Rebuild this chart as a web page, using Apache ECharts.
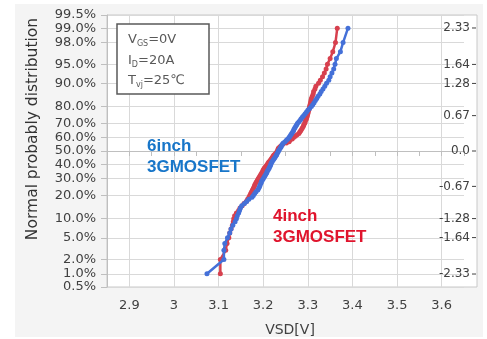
<!DOCTYPE html>
<html>
<head>
<meta charset="utf-8">
<script src="https://cdn.jsdelivr.net/npm/echarts@6/dist/echarts.min.js"></script>
<style>
  html, body { margin: 0; padding: 0; background: #fff; }
  #bg { position: absolute; left: 15px; top: 4px; width: 468px; height: 333px; background: #f4f4f4; }
  #chart { position: absolute; left: 0; top: 0; width: 487px; height: 339px; }
</style>
</head>
<body>
<div id="bg"></div>
<div id="chart"></div>
<script>
// cumulative probability (%) of each ranked sample
const cumPct = [
  1, 2, 3, 4, 5, 6, 7, 8, 9, 10, 11, 12, 13, 14, 15, 16, 17, 18, 19, 20,
  21, 22, 23, 24, 25, 26, 27, 28, 29, 30, 31, 32, 33, 34, 35, 36, 37, 38, 39, 40,
  41, 42, 43, 44, 45, 46, 47, 48, 49, 50, 51, 52, 53, 54, 55, 56, 57, 58, 59, 60,
  61, 62, 63, 64, 65, 66, 67, 68, 69, 70, 71, 72, 73, 74, 75, 76, 77, 78, 79, 80,
  81, 82, 83, 84, 85, 86, 87, 88, 89, 90, 91, 92, 93, 94, 95, 96, 97, 98, 99
]

// VSD[V] - 6inch 3GMOSFET (blue)
const vsd6inch = [
  3.074, 3.112, 3.112, 3.114, 3.120, 3.125, 3.128, 3.132, 3.137, 3.140,
  3.142, 3.145, 3.147, 3.149, 3.152, 3.158, 3.163, 3.168, 3.175, 3.178,
  3.181, 3.184, 3.188, 3.190, 3.192, 3.193, 3.195, 3.196, 3.198, 3.200,
  3.202, 3.204, 3.206, 3.208, 3.209, 3.211, 3.213, 3.214, 3.216, 3.217,
  3.218, 3.220, 3.222, 3.224, 3.226, 3.228, 3.230, 3.231, 3.233, 3.234,
  3.236, 3.238, 3.240, 3.241, 3.243, 3.245, 3.249, 3.252, 3.255, 3.258,
  3.260, 3.262, 3.264, 3.266, 3.268, 3.269, 3.271, 3.273, 3.275, 3.277,
  3.280, 3.283, 3.285, 3.288, 3.291, 3.294, 3.297, 3.300, 3.304, 3.308,
  3.311, 3.314, 3.317, 3.320, 3.323, 3.327, 3.330, 3.334, 3.338, 3.342,
  3.347, 3.350, 3.354, 3.358, 3.361, 3.364, 3.373, 3.379, 3.390
]

// VSD[V] - 4inch 3GMOSFET (red)
const vsd4inch = [
  3.104, 3.104, 3.116, 3.119, 3.123, 3.125, 3.128, 3.131, 3.133, 3.134,
  3.136, 3.140, 3.145, 3.148, 3.153, 3.157, 3.162, 3.165, 3.168, 3.170,
  3.172, 3.174, 3.176, 3.178, 3.180, 3.181, 3.183, 3.185, 3.187, 3.189,
  3.191, 3.193, 3.195, 3.197, 3.199, 3.200, 3.202, 3.204, 3.207, 3.209,
  3.211, 3.213, 3.216, 3.218, 3.220, 3.222, 3.224, 3.227, 3.230, 3.232,
  3.233, 3.234, 3.237, 3.240, 3.244, 3.252, 3.258, 3.260, 3.265, 3.268,
  3.272, 3.276, 3.280, 3.282, 3.284, 3.286, 3.288, 3.290, 3.291, 3.293,
  3.294, 3.295, 3.297, 3.298, 3.299, 3.300, 3.301, 3.302, 3.303, 3.304,
  3.305, 3.306, 3.307, 3.308, 3.310, 3.312, 3.313, 3.316, 3.318, 3.324,
  3.328, 3.333, 3.337, 3.341, 3.344, 3.350, 3.356, 3.362, 3.366
]

// axis ticks (left axis labels split into two alternating sets)
const pctTicks = [0.5, 1, 2, 5, 10, 20, 30, 40, 50, 60, 70, 80, 90, 95, 98, 99, 99.5]
const pctTicksA = [0.5, 2, 10, 30, 50, 70, 90, 98, 99.5]
const pctTicksB = [1, 5, 20, 40, 60, 80, 95, 99]
const zTicks = [-2.33, -1.64, -1.28, -0.67, 0, 0.67, 1.28, 1.64, 2.33]
const xLabelVals = [2.9, 3.0, 3.1, 3.2, 3.3, 3.4, 3.5, 3.6]
const xTickVals = [2.85, 2.9, 2.95, 3.0, 3.05, 3.1, 3.15, 3.2, 3.25, 3.3, 3.35, 3.4, 3.45, 3.5, 3.55, 3.6, 3.65]

// inverse standard normal CDF (Acklam)
function probit(p) {
  const a = [-39.69683028665376, 220.9460984245205, -275.9285104469687, 138.357751867269, -30.66479806614716, 2.506628277459239]
  const b = [-54.47609879822406, 161.5858368580409, -155.6989798598866, 66.80131188771972, -13.28068155288572]
  const c = [-0.007784894002430293, -0.3223964580411365, -2.400758277161838, -2.549732539343734, 4.374664141464968, 2.938163982698783]
  const d = [0.007784695709041462, 0.3224671290700398, 2.445134137142996, 3.754408661907416]
  const pl = 0.02425
  let q, r
  if (p < pl) {
    q = Math.sqrt(-2 * Math.log(p))
    return (((((c[0] * q + c[1]) * q + c[2]) * q + c[3]) * q + c[4]) * q + c[5]) / ((((d[0] * q + d[1]) * q + d[2]) * q + d[3]) * q + 1)
  }
  if (p > 1 - pl) {
    q = Math.sqrt(-2 * Math.log(1 - p))
    return -(((((c[0] * q + c[1]) * q + c[2]) * q + c[3]) * q + c[4]) * q + c[5]) / ((((d[0] * q + d[1]) * q + d[2]) * q + d[3]) * q + 1)
  }
  q = p - 0.5
  r = q * q
  return (((((a[0] * r + a[1]) * r + a[2]) * r + a[3]) * r + a[4]) * r + a[5]) * q / (((((b[0] * r + b[1]) * r + b[2]) * r + b[3]) * r + b[4]) * r + 1)
}

const toZ = list => list.map(p => probit(p / 100))
const pctZ = toZ(pctTicks)
const zMin = pctZ[0]
const zMax = pctZ[pctZ.length - 1]

const pctLabel = v => {
  let best = 0
  pctZ.forEach((z, i) => { if (Math.abs(z - v) < Math.abs(pctZ[best] - v)) best = i })
  return pctTicks[best].toFixed(1) + '%'
}

const toPoints = vals => vals.map((v, i) => [v, probit(cumPct[i] / 100)])

const font = 'DejaVu Sans, Verdana, sans-serif'
const axisGray = '#bfbfbf'
const gridGray = '#d9d9d9'
const labelColor = '#404040'

const leftLabelAxis = (ticks, main) => ({
  gridIndex: 0, type: 'value', min: zMin, max: zMax, position: 'left', offset: 0,
  axisLine: { show: main, lineStyle: { color: axisGray } },
  axisTick: { show: true, customValues: toZ(ticks), length: 6, lineStyle: { color: axisGray } },
  axisLabel: {
    customValues: toZ(ticks), margin: 11, fontSize: 13, color: labelColor, fontFamily: font,
    hideOverlap: false, formatter: pctLabel
  },
  splitLine: { show: true, lineStyle: { color: gridGray } }
})

const chart = echarts.init(document.getElementById('chart'))

chart.setOption({
  animation: false,
  backgroundColor: 'transparent',
  grid: [
    // plot
    { left: 107, top: 15, width: 357, height: 272, show: false },
    // frame
    { left: 107, top: 15, width: 370, height: 272, show: true, backgroundColor: '#fff', borderColor: '#c8c8c8', borderWidth: 1 },
    // right z-axis
    { left: 107, top: 15, width: 370, height: 272, show: false }
  ],
  xAxis: [
    {
      gridIndex: 0, type: 'value', min: 2.85, max: 3.65, position: 'bottom',
      axisLine: { show: true, lineStyle: { color: axisGray } },
      axisTick: { show: true, customValues: xTickVals, length: 5, lineStyle: { color: axisGray } },
      axisLabel: {
        customValues: xLabelVals, margin: 12, fontSize: 13, color: labelColor, fontFamily: font,
        hideOverlap: false,
        formatter: v => String(+v.toFixed(1))
      },
      splitLine: { show: false }
    },
    {
      gridIndex: 0, type: 'value', min: 2.85, max: 3.65, position: 'bottom',
      axisLine: { show: false },
      axisTick: { show: false, customValues: xLabelVals },
      axisLabel: { show: false, customValues: xLabelVals },
      splitLine: { show: true, lineStyle: { color: gridGray } }
    },
    { gridIndex: 1, type: 'value', min: 0, max: 1, show: false },
    { gridIndex: 2, type: 'value', min: 0, max: 1, show: false }
  ],
  yAxis: [
    leftLabelAxis(pctTicksA, true),
    leftLabelAxis(pctTicksB, false),
    { gridIndex: 1, type: 'value', min: 0, max: 1, show: false },
    {
      gridIndex: 2, type: 'value', min: zMin, max: zMax, position: 'right',
      axisLine: { show: false },
      axisTick: { show: false, customValues: zTicks },
      axisLabel: {
        inside: true, customValues: zTicks, margin: 1, fontSize: 12, color: labelColor, fontFamily: font,
        hideOverlap: false,
        // tick drawn as part of the label
        formatter: v => (Math.abs(v) < 1e-9 ? '0.0' : v.toFixed(2)) + '{g| }{t| }',
        rich: {
          g: { width: 2, fontSize: 4 },
          t: { width: 4, height: 1, fontSize: 1, backgroundColor: labelColor }
        }
      },
      splitLine: { show: false }
    }
  ],
  series: [
    {
      name: '4inch 3GMOSFET', type: 'line', xAxisIndex: 0, yAxisIndex: 0,
      data: toPoints(vsd4inch),
      symbol: 'circle', symbolSize: 5, showSymbol: true,
      itemStyle: { color: '#d7404e' },
      lineStyle: { color: '#d7404e', width: 2.5 },
      z: 3
    },
    {
      name: '6inch 3GMOSFET', type: 'line', xAxisIndex: 0, yAxisIndex: 0,
      data: toPoints(vsd6inch),
      symbol: 'circle', symbolSize: 5, showSymbol: true,
      itemStyle: { color: '#4470d8' },
      lineStyle: { color: '#4470d8', width: 2.5 },
      z: 4
    }
  ],
  graphic: [
    // 条件ボックス
    {
      type: 'rect', z: 50,
      shape: { x: 117, y: 24, width: 92, height: 70 },
      style: { fill: '#fff', stroke: '#595959', lineWidth: 1.5 }
    },
    {
      type: 'text', z: 51, x: 128, y: 40,
      style: {
        text: '{n|V}{s|GS}{n|=0V}', verticalAlign: 'middle',
        rich: {
          n: { fontSize: 13, fontFamily: font, fill: '#595959' },
          s: { fontSize: 8, fontFamily: font, fill: '#595959', padding: [7, 0, 0, 0] }
        }
      }
    },
    {
      type: 'text', z: 51, x: 128, y: 61,
      style: {
        text: '{n|I}{s|D}{n|=20A}', verticalAlign: 'middle',
        rich: {
          n: { fontSize: 13, fontFamily: font, fill: '#595959' },
          s: { fontSize: 8, fontFamily: font, fill: '#595959', padding: [7, 0, 0, 0] }
        }
      }
    },
    {
      type: 'text', z: 51, x: 128, y: 81,
      style: {
        text: '{n|T}{s|vj}{n|=25℃}', verticalAlign: 'middle',
        rich: {
          n: { fontSize: 13, fontFamily: font, fill: '#595959' },
          s: { fontSize: 8, fontFamily: font, fill: '#595959', padding: [7, 0, 0, 0] }
        }
      }
    },
    // 系列ラベル
    {
      type: 'text', z: 40, x: 147, y: 136,
      style: {
        text: '6inch\n3GMOSFET', fontSize: 17, fontWeight: 'bold', lineHeight: 21,
        fontFamily: 'Liberation Sans, Arial, sans-serif', fill: '#1876c9'
      }
    },
    {
      type: 'text', z: 40, x: 273, y: 206,
      style: {
        text: '4inch\n3GMOSFET', fontSize: 17, fontWeight: 'bold', lineHeight: 21,
        fontFamily: 'Liberation Sans, Arial, sans-serif', fill: '#e0142d'
      }
    },
    // 軸タイトル
    {
      type: 'text', z: 40, x: 33, y: 129, rotation: Math.PI / 2,
      style: {
        text: 'Normal probably distribution', fontSize: 15.5, fontFamily: font,
        fill: '#333', align: 'center', verticalAlign: 'middle'
      }
    },
    {
      type: 'text', z: 40, x: 290, y: 330,
      style: {
        text: 'VSD[V]', fontSize: 14, fontFamily: font,
        fill: '#404040', align: 'center', verticalAlign: 'middle'
      }
    }
  ]
})
</script>
</body>
</html>
